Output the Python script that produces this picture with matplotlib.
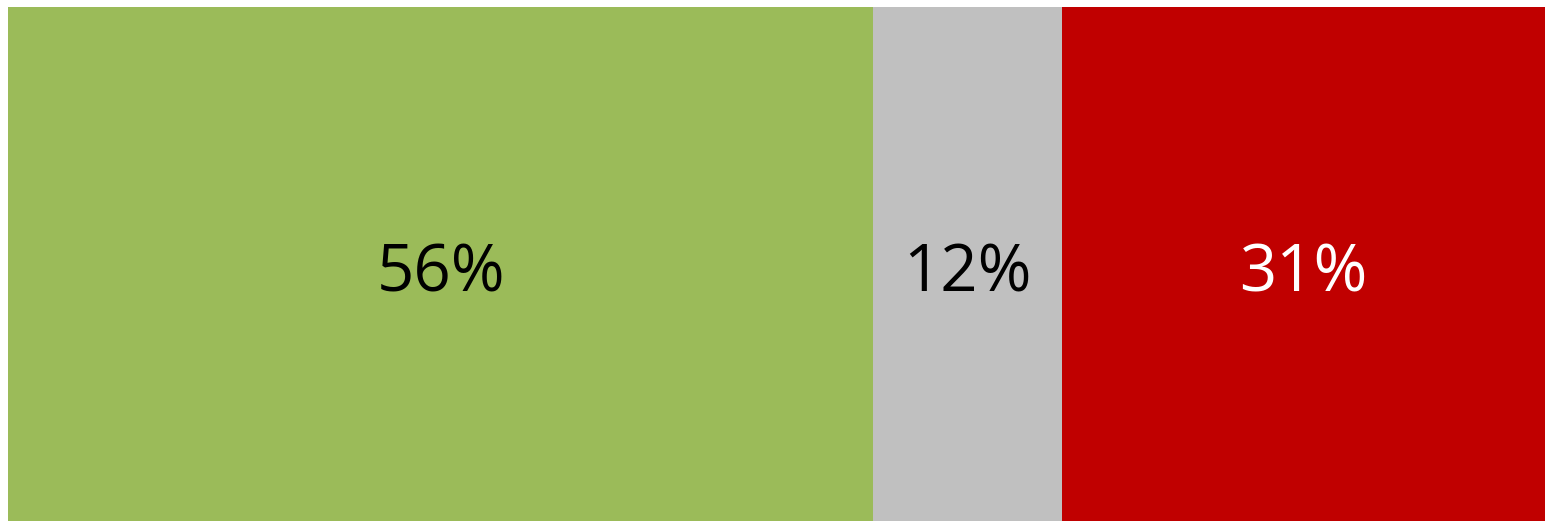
import matplotlib
matplotlib.use("Agg")
import matplotlib.pyplot as plt

# shares (labels are rounded)
categories = ["positive", "neutral", "negative"]
shares = [56.3, 12.3, 31.4]
labels = ["56%", "12%", "31%"]
colors = ["#9BBB59", "#C0C0C0", "#C00000"]
text_colors = ["black", "black", "white"]

W, H = 1545, 521
fig = plt.figure(figsize=(W / 100, H / 100), dpi=100)
ax = fig.add_axes([8 / W, 0, 1 - 8 / W, 1 - 7 / H])

left = 0
for share, lab, col, tcol in zip(shares, labels, colors, text_colors):
    ax.barh(0, share, left=left, height=1.0, color=col, edgecolor="none")
    ax.text(left + share / 2, -0.02, lab, ha="center", va="center",
            fontsize=47, color=tcol, family=["Open Sans", "DejaVu Sans"])
    left += share

ax.set_xlim(0, sum(shares))
ax.set_ylim(-0.5, 0.5)
ax.axis("off")

fig.savefig("out.png", dpi=100)
